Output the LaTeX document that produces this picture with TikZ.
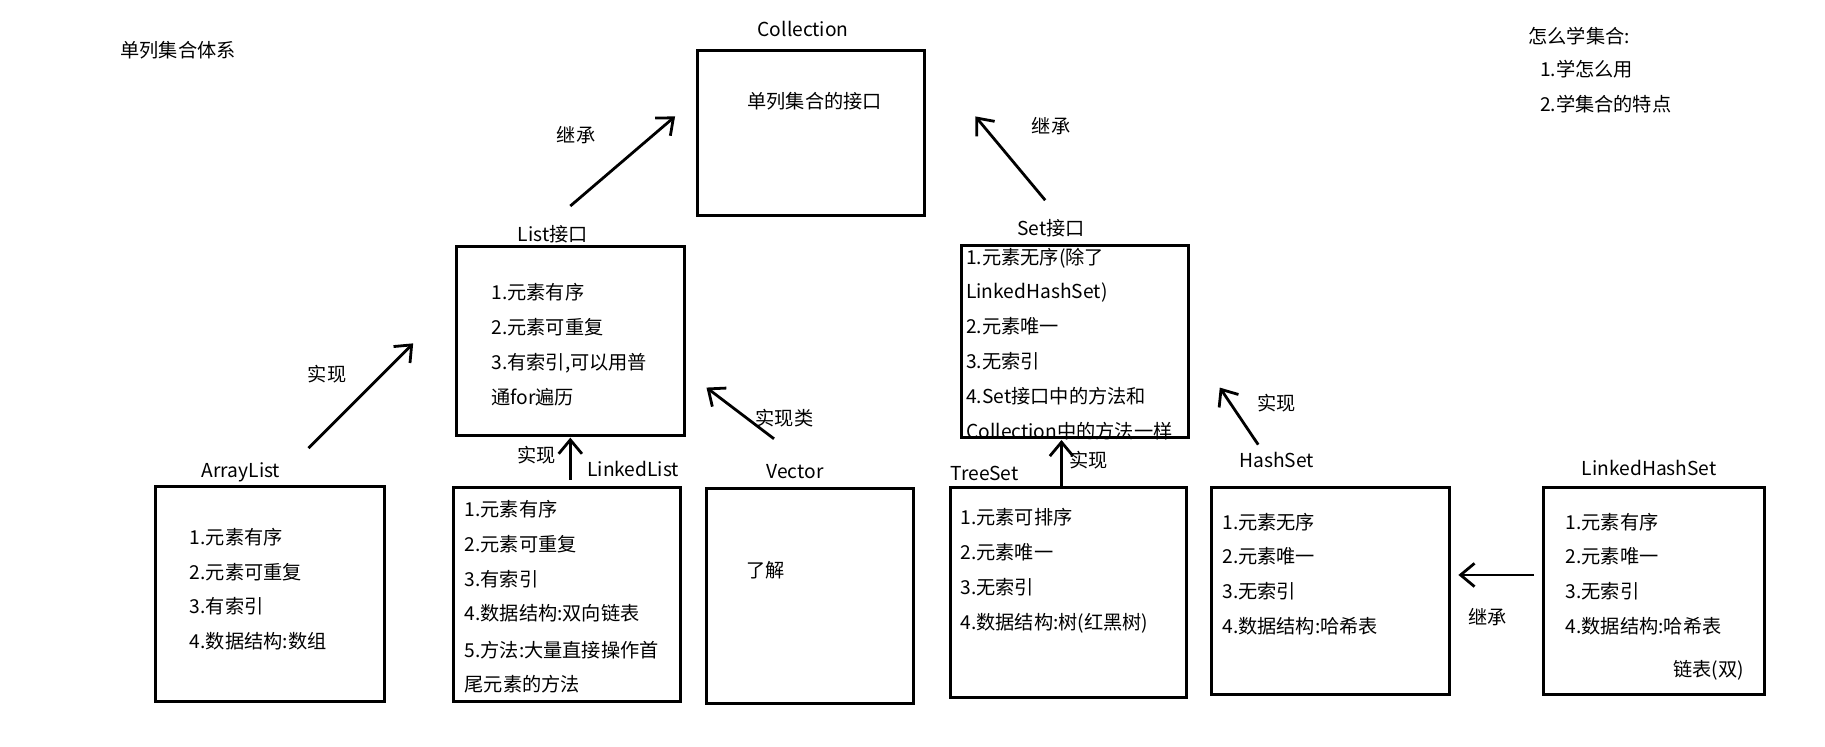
\documentclass[tikz,border=0pt]{standalone}
\usepackage{fontspec}
\setmainfont{Noto Sans CJK SC}
\usetikzlibrary{arrows.meta}
\begin{document}
\begin{tikzpicture}[x=1pt,y=-1pt,
  box/.style={draw, line width=2.6pt, anchor=north west, inner sep=0pt, outer sep=0pt},
  txt/.style={anchor=west, inner sep=0pt, font=\fontsize{16.5}{19}\selectfont, text height=13pt, text depth=2pt},
  lbl/.style={inner sep=0pt, font=\fontsize{16.5}{19}\selectfont, text height=13pt, text depth=2pt},
  arr/.style={line width=2.4pt, -{Straight Barb[length=12pt,width=20pt,line width=2.4pt]}}
]
\useasboundingbox (0,0) rectangle (1568,641);
% boxes
\node[box, minimum width=195pt, minimum height=142pt] (coll) at (599,43) {};
\node[box, minimum width=196pt, minimum height=162pt] (list) at (392,212) {};
\node[box, minimum width=195pt, minimum height=165pt] (set) at (826,211) {};
\node[box, minimum width=196pt, minimum height=185pt] (al) at (134,418) {};
\node[box, minimum width=195pt, minimum height=184pt] (ll) at (390,419) {};
\node[box, minimum width=178pt, minimum height=184pt] (vec) at (607,420) {};
\node[box, minimum width=202pt, minimum height=180pt] (ts) at (817,419) {};
\node[box, minimum width=204pt, minimum height=178pt] (hs) at (1041,419) {};
\node[box, minimum width=190pt, minimum height=178pt] (lhs) at (1326,419) {};

% titles
\node[lbl] (title) at (153,44) {单列集合体系};
\node[lbl] (tcoll) at (690,26) {Collection};
\node[txt] (c1) at (642,88) {单列集合的接口};
\node[txt] (h0) at (1313,32) {怎么学集合:};
\node[txt] (h1) at (1323,60) {1.学怎么用};
\node[txt] (h2) at (1323,90) {2.学集合的特点};
\node[lbl] (tlist) at (475,202) {List接口};
\node[lbl] (tset) at (903,197) {Set接口};
\node[lbl] (tal) at (207,405) {ArrayList};
\node[lbl] (tll) at (544,404) {LinkedList};
\node[lbl] (tvec) at (683,406) {Vector};
\node[lbl] (tts) at (846,407) {TreeSet};
\node[lbl] (ths) at (1097,396) {HashSet};
\node[lbl] (tlhs) at (1417,403) {LinkedHashSet};

% list contents
\node[txt] (l1) at (422,252) {1.元素有序};
\node[txt] (l2) at (422,282) {2.元素可重复};
\node[txt] (l3) at (422,312) {3.有索引,可以用普};
\node[txt] (l4) at (422,342) {通for遍历};
% set contents
\node[txt] (s1) at (830,222) {1.元素无序(除了};
\node[txt] (s2) at (830,251) {LinkedHashSet)};
\node[txt] (s3) at (830,281) {2.元素唯一};
\node[txt] (s4) at (830,311) {3.无索引};
\node[txt] (s5) at (830,341) {4.Set接口中的方法和};
\node[txt] (s6) at (830,371) {Collection中的方法一样};
% arraylist
\node[txt] (a1) at (163,462) {1.元素有序};
\node[txt] (a2) at (163,492) {2.元素可重复};
\node[txt] (a3) at (163,522) {3.有索引};
\node[txt] (a4) at (163,552) {4.数据结构:数组};
% linkedlist
\node[txt] (k1) at (399,438) {1.元素有序};
\node[txt] (k2) at (399,468) {2.元素可重复};
\node[txt] (k3) at (399,498) {3.有索引};
\node[txt] (k4) at (399,528) {4.数据结构:双向链表};
\node[txt] (k5) at (399,559) {5.方法:大量直接操作首};
\node[txt] (k6) at (399,589) {尾元素的方法};
% vector
\node[txt] (v1) at (641,491) {了解};
% treeset
\node[txt] (t1) at (825,445) {1.元素可排序};
\node[txt] (t2) at (825,475) {2.元素唯一};
\node[txt] (t3) at (825,505) {3.无索引};
\node[txt] (t4) at (825,535) {4.数据结构:树(红黑树)};
% hashset
\node[txt] (hh1) at (1050,449) {1.元素无序};
\node[txt] (hh2) at (1050,479) {2.元素唯一};
\node[txt] (hh3) at (1050,509) {3.无索引};
\node[txt] (hh4) at (1050,539) {4.数据结构:哈希表};
% linkedhashset
\node[txt] (m1) at (1345,449) {1.元素有序};
\node[txt] (m2) at (1345,479) {2.元素唯一};
\node[txt] (m3) at (1345,509) {3.无索引};
\node[txt] (m4) at (1345,539) {4.数据结构:哈希表};
\node[lbl] (m5) at (1468,576) {链表(双)};

% arrow labels
\node[lbl] (e1) at (495,117) {继承};
\node[lbl] (e2) at (903,109) {继承};
\node[lbl] (e3) at (281,322) {实现};
\node[lbl] (e4) at (674,360) {实现类};
\node[lbl] (e5) at (461,392) {实现};
\node[lbl] (e6) at (935,396) {实现};
\node[lbl] (e7) at (1097,347) {实现};
\node[lbl] (e8) at (1278,531) {继承};

% arrow end points
\coordinate (p1s) at (490,177); \coordinate (p1e) at (580,100);
\coordinate (p2s) at (898,172); \coordinate (p2e) at (838,100);
\coordinate (p3s) at (265,385); \coordinate (p3e) at (355,295);
\coordinate (p4s) at (665,377); \coordinate (p4e) at (607,333);
\coordinate (p5s) at (490,412); \coordinate (p5e) at (490,376);
\coordinate (p6s) at (912,418); \coordinate (p6e) at (912,378);
\coordinate (p7s) at (1081,382); \coordinate (p7e) at (1048,333);
\coordinate (p8s) at (1318,494); \coordinate (p8e) at (1253,494);

\draw[arr] (p1s) -- (p1e);
\draw[arr] (p2s) -- (p2e);
\draw[arr] (p3s) -- (p3e);
\draw[arr] (p4s) -- (p4e);
\draw[arr] (p5s) -- (p5e);
\draw[arr] (p6s) -- (p6e);
\draw[arr] (p7s) -- (p7e);
\draw[arr] (p8s) -- (p8e);
\end{tikzpicture}
\end{document}
